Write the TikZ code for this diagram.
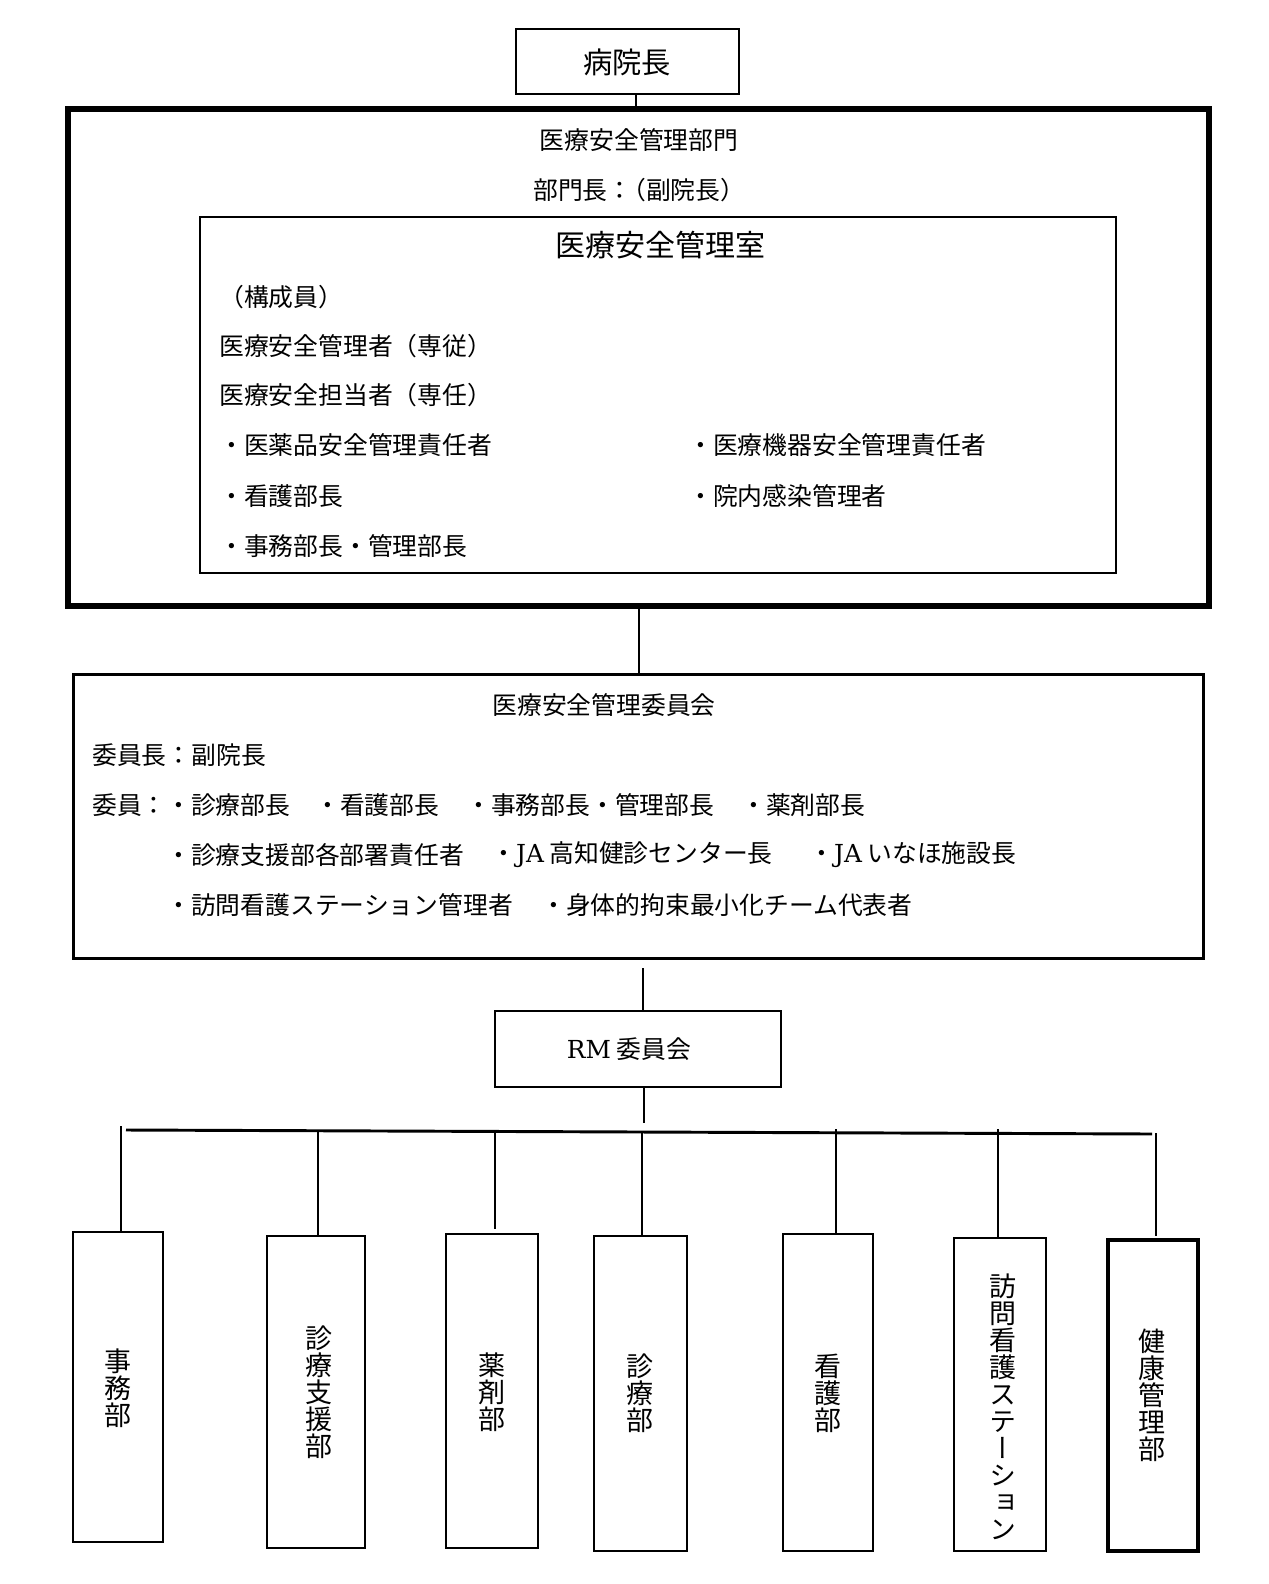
\documentclass[tikz,border=0pt]{standalone}
\usepackage{fontspec}
\setmainfont{Noto Sans CJK JP}
\newfontfamily\latf{DejaVu Serif}
\newfontfamily\vertf{Noto Sans CJK JP}[RawFeature=+vert]
\usetikzlibrary{fit}
\begin{document}
\begin{tikzpicture}[x=0.75pt,y=-0.75pt,
  box/.style={draw, inner sep=0pt, line width=1.5pt},
  lbl/.style={inner sep=0pt, font=\fontsize{18.6}{22}\selectfont},
  vlbl/.style={inner sep=0pt, align=center, font=\vertf\fontsize{20.25}{20.25}\selectfont},
  conn/.style={line width=1.5pt},
  dept/.style={box, line width=1.9pt}
]
\useasboundingbox[fill=white] (0,0) rectangle (1269,1584);

% top
\node[box, fit={(516,29) (739,94)}] (hosp) {};
\node[inner sep=0pt, font=\fontsize{22}{26}\selectfont] (hospt) at (627,62) {病院長};

\node[box, line width=4.1pt, fit={(68,109) (1209,606)}] (outer) {};
\node[lbl] (outt) at (639,140) {医療安全管理部門};
\node[lbl, anchor=west] (outh) at (533,190) {部門長：\hspace{-0.45em}（副院長）};

\node[box, fit={(200,217) (1116,573)}] (inner) {};
\node[inner sep=0pt, font=\fontsize{22.5}{26}\selectfont] (innt) at (660,245) {医療安全管理室};
\node[lbl, anchor=west] (m1) at (219,297) {（構成員）};
\node[lbl, anchor=west] (m2) at (219,346) {医療安全管理者（専従）};
\node[lbl, anchor=west] (m3) at (219,395) {医療安全担当者（専任）};
\node[lbl, anchor=west] (m4) at (219,445) {・医薬品安全管理責任者};
\node[lbl, anchor=west] (m5) at (219,496) {・看護部長};
\node[lbl, anchor=west] (m6) at (219,546) {・事務部長・管理部長};
\node[lbl, anchor=west] (m7) at (688,445) {・医療機器安全管理責任者};
\node[lbl, anchor=west] (m8) at (688,496) {・院内感染管理者};

% committee
\node[box, line width=2.25pt, fit={(73,674) (1203,958)}] (comm) {};
\node[lbl] (commt) at (604,705) {医療安全管理委員会};
\node[lbl, anchor=west] (c1) at (92,755) {委員長：副院長};
\node[lbl, anchor=west] (c2) at (92,805) {委員：};
\node[lbl, anchor=west] (c3) at (166,805) {・診療部長};
\node[lbl, anchor=west] (c4) at (315,805) {・看護部長};
\node[lbl, anchor=west] (c5) at (466,805) {・事務部長・管理部長};
\node[lbl, anchor=west] (c6) at (741,805) {・薬剤部長};
\node[lbl, anchor=west] (c7) at (166,855) {・診療支援部各部署責任者};
\node[lbl, anchor=west] (c8) at (491,855) {・{\latf JA} 高知健診センター長};
\node[lbl, anchor=west] (c9) at (809,855) {・{\latf JA} いなほ施設長};
\node[lbl, anchor=west] (c10) at (166,905) {・訪問看護ステーション管理者};
\node[lbl, anchor=west] (c11) at (541,905) {・身体的拘束最小化チーム代表者};

% RM
\node[box, line width=1.9pt, fit={(495,1011) (781,1087)}] (rm) {};
\node[lbl] (rmt) at (629,1049) {{\latf RM} 委員会};

% departments
\node[dept, fit={(73,1232) (163,1542)}] (b1) {};
\node[dept, fit={(267,1236) (365,1548)}] (b2) {};
\node[dept, fit={(446,1234) (538,1548)}] (b3) {};
\node[dept, fit={(594,1236) (687,1551)}] (b4) {};
\node[dept, fit={(783,1234) (873,1551)}] (b5) {};
\node[dept, fit={(954,1238) (1046,1551)}] (b6) {};
\node[dept, line width=2.7pt, fit={(1108,1240) (1198,1551)}] (b7) {};

\node[vlbl] (t1) at (118,1388) {事\\務\\部};
\node[vlbl] (t2) at (319,1392) {診\\療\\支\\援\\部};
\node[vlbl] (t3) at (492,1392) {薬\\剤\\部};
\node[vlbl] (t4) at (640,1393) {診\\療\\部};
\node[vlbl] (t5) at (828,1393) {看\\護\\部};
\node[vlbl] (t6) at (1003,1407) {訪\\問\\看\\護\\ス\\テ\\ー\\シ\\ョ\\ン};
\node[vlbl] (t7) at (1152,1395) {健\\康\\管\\理\\部};

% connectors
\coordinate (cA) at (636,94);
\draw[conn] (hosp.south -| cA) -- (outer.north -| cA);
\coordinate (cB) at (639,606);
\draw[conn] (outer.south -| cB) -- (comm.north -| cB);
\coordinate (cC) at (643,968);
\draw[conn] (cC) -- (rm.north -| cC);
\coordinate (cD) at (644,1123);
\draw[conn] (rm.south -| cD) -- (cD);

\coordinate (busL) at (126,1130);
\coordinate (busR) at (1152,1134);
\draw[line width=2.2pt] (busL) -- (busR);

\coordinate (d1) at (121,1126);
\draw[conn] (d1) -- (b1.north -| d1);
\coordinate (d2) at (318,1131);
\draw[conn] (d2) -- (b2.north -| d2);
\coordinate (d3) at (495,1131);
\coordinate (d3e) at (495,1229);
\draw[conn] (d3) -- (d3e);
\coordinate (d4) at (642,1132);
\draw[conn] (d4) -- (b4.north -| d4);
\coordinate (d5) at (836,1129);
\draw[conn] (d5) -- (b5.north -| d5);
\coordinate (d6) at (998,1129);
\draw[conn] (d6) -- (b6.north -| d6);
\coordinate (d7) at (1156,1133);
\coordinate (d7e) at (1156,1236);
\draw[conn] (d7) -- (d7e);
\end{tikzpicture}
\end{document}
